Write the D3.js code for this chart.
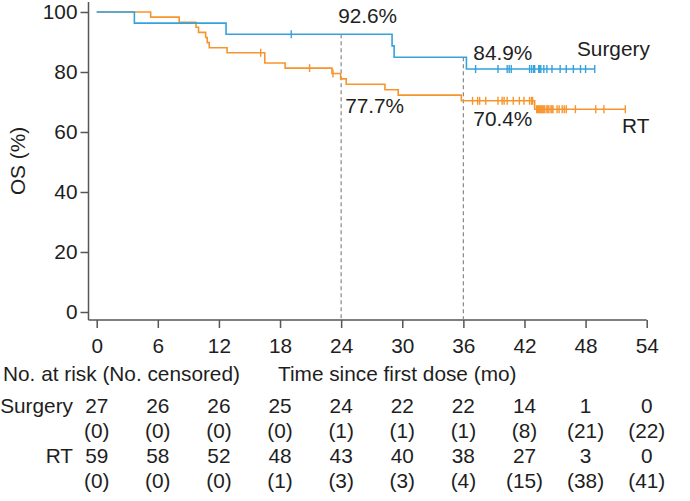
<!DOCTYPE html>
<html>
<head>
<meta charset="utf-8">
<script src="https://cdn.jsdelivr.net/npm/d3@7.9.0/dist/d3.min.js"></script>
<style>
  body { margin: 0; background: #fff; }
  svg { display: block; font-family: 'Liberation Sans', Arial, sans-serif; }
  text { fill: #1e1e1e; }
</style>
</head>
<body>
<div id="chart"></div>
<script>
// DATA

const surgeryStepTimes = [0, 3.7, 12.7, 29.0, 29.2, 36.3];
const surgeryStepSurv = [100, 96.3, 92.6, 88.7, 84.9, 81.0];
const surgeryEnd = 48.9;
const surgeryCensors = [19.1, 37.2, 39.4, 40.3, 40.5, 40.7, 42.5, 42.7, 42.9, 43.0,
  43.4, 43.5, 43.6, 43.9, 44.2, 44.7, 45.5, 46.1, 46.8, 47.5, 48.0, 48.9];

const rtStepTimes = [0, 5.3, 8.1, 9.75, 10.0, 10.7, 10.85, 11.05, 12.8, 16.5,
  18.5, 23.1, 23.95, 24.5, 28.3, 29.6, 35.8, 43.0];
const rtStepSurv = [100, 98.3, 96.6, 94.9, 93.2, 91.5, 89.8, 88.1, 86.4, 83.0,
  81.3, 79.5, 77.7, 75.9, 74.1, 72.3, 70.4, 67.6];
const rtEnd = 51.9;
const rtCensors = [16.1, 20.9, 23.2, 36.9, 37.4, 37.6, 38.2, 39.4, 39.8, 40.0,
  40.3, 40.9, 41.5, 41.95, 42.5, 42.7, 42.8, 43.2, 43.3, 43.4, 43.5, 43.6, 43.7,
  43.8, 43.9, 44.0, 44.2, 44.3, 44.4, 44.6, 44.7, 44.8, 45.2, 45.4, 45.7, 45.9,
  46.1, 47.0, 49.0, 49.8, 51.9];

const landmarkTimes = [24, 36];
const landmarkLabels = [
  { text: '92.6%', t: 24, dx: -3, y: 22.5 },
  { text: '77.7%', t: 24, dx: 4, y: 112.5 },
  { text: '84.9%', t: 36, dx: 10, y: 60 },
  { text: '70.4%', t: 36, dx: 10, y: 126 },
];

const xTicks = [0, 6, 12, 18, 24, 30, 36, 42, 48, 54];
const yTicks = [0, 20, 40, 60, 80, 100];

const riskTimes = [0, 6, 12, 18, 24, 30, 36, 42, 48, 54];
const surgeryAtRisk = [27, 26, 26, 25, 24, 22, 22, 14, 1, 0];
const surgeryCensored = [0, 0, 0, 0, 1, 1, 1, 8, 21, 22];
const rtAtRisk = [59, 58, 52, 48, 43, 40, 38, 27, 3, 0];
const rtCensored = [0, 0, 0, 1, 3, 3, 4, 15, 38, 41];

const blue = '#35a2dc';
const orange = '#f7952c';

const width = 690;
const height = 501;
const fontSize = 20.8;

const svg = d3.select('#chart')
  .append('svg')
  .attr('width', width)
  .attr('height', height);

// SCALES

const xScale = d3.scaleLinear().domain([0, 54]).range([96.7, 646.7]);
const yScale = d3.scaleLinear().domain([0, 100]).range([312, 12]);

const axisY = 320;
const axisX = 88.5;

// AXES

const axisColor = '#555';

svg.append('line')
  .attr('x1', axisX).attr('x2', xScale(54))
  .attr('y1', axisY).attr('y2', axisY)
  .attr('stroke', axisColor).attr('stroke-width', 1.5);

svg.append('line')
  .attr('x1', axisX).attr('x2', axisX)
  .attr('y1', 2).attr('y2', axisY)
  .attr('stroke', axisColor).attr('stroke-width', 1.5);

const xAxis = svg.append('g')
  .attr('transform', `translate(0,${axisY})`)
  .call(d3.axisBottom(xScale).tickValues(xTicks).tickSize(8).tickPadding(10));

const yAxis = svg.append('g')
  .attr('transform', `translate(${axisX},0)`)
  .call(d3.axisLeft(yScale).tickValues(yTicks).tickSize(8).tickPadding(3));

[xAxis, yAxis].forEach((g) => {
  g.select('.domain').remove();
  g.selectAll('line').attr('stroke', axisColor).attr('stroke-width', 1.5);
  g.selectAll('text')
    .attr('font-size', fontSize)
    .attr('font-family', "'Liberation Sans', Arial, sans-serif")
    .attr('fill', '#1e1e1e');
});

svg.append('text')
  .attr('transform', 'translate(17,161) rotate(-90)')
  .attr('text-anchor', 'middle')
  .attr('dominant-baseline', 'central')
  .attr('font-size', fontSize)
  .text('OS (%)');

// HELPERS

function survAt(times, surv, t) {
  const i = d3.bisectRight(times, t) - 1;
  return surv[Math.max(0, i)];
}

function stepPoints(times, surv, end) {
  const pts = times.map((t, i) => [t, surv[i]]);
  pts.push([end, surv[surv.length - 1]]);
  return pts;
}

// LANDMARK LINES

svg.append('g')
  .selectAll('line')
  .data(landmarkTimes)
  .join('line')
  .attr('x1', (d) => xScale(d))
  .attr('x2', (d) => xScale(d))
  .attr('y1', (d) => yScale(survAt(surgeryStepTimes, surgeryStepSurv, d)))
  .attr('y2', axisY)
  .attr('stroke', '#888')
  .attr('stroke-width', 1.2)
  .attr('stroke-dasharray', '4,3');

// CURVES

const line = d3.line()
  .x((d) => xScale(d[0]))
  .y((d) => yScale(d[1]))
  .curve(d3.curveStepAfter);

const groups = [
  { times: rtStepTimes, surv: rtStepSurv, end: rtEnd, censors: rtCensors, color: orange },
  { times: surgeryStepTimes, surv: surgeryStepSurv, end: surgeryEnd, censors: surgeryCensors, color: blue },
];

groups.forEach((g) => {
  svg.append('path')
    .attr('d', line(stepPoints(g.times, g.surv, g.end)))
    .attr('fill', 'none')
    .attr('stroke', g.color)
    .attr('stroke-width', 1.6);

  svg.append('g')
    .selectAll('line')
    .data(g.censors)
    .join('line')
    .attr('x1', (d) => xScale(d))
    .attr('x2', (d) => xScale(d))
    .attr('y1', (d) => yScale(survAt(g.times, g.surv, d)) - 4)
    .attr('y2', (d) => yScale(survAt(g.times, g.surv, d)) + 4)
    .attr('stroke', g.color)
    .attr('stroke-width', 1.4);
});

// LABELS

svg.append('g')
  .selectAll('text')
  .data(landmarkLabels)
  .join('text')
  .attr('x', (d) => xScale(d.t) + d.dx)
  .attr('y', (d) => d.y)
  .attr('font-size', fontSize)
  .text((d) => d.text);

svg.append('text')
  .attr('x', 577).attr('y', 56)
  .attr('font-size', fontSize)
  .text('Surgery');

svg.append('text')
  .attr('x', 622).attr('y', 133)
  .attr('font-size', fontSize)
  .text('RT');

// RISK TABLE

svg.append('text')
  .attr('x', 3).attr('y', 381)
  .attr('font-size', fontSize)
  .text('No. at risk (No. censored)');

svg.append('text')
  .attr('x', 278).attr('y', 381)
  .attr('font-size', fontSize)
  .text('Time since first dose (mo)');

const rows = [
  { label: 'Surgery', values: surgeryAtRisk, y: 413 },
  { label: '', values: surgeryCensored.map((d) => `(${d})`), y: 438 },
  { label: 'RT', values: rtAtRisk, y: 463 },
  { label: '', values: rtCensored.map((d) => `(${d})`), y: 488 },
];

rows.forEach((row) => {
  svg.append('text')
    .attr('x', 73).attr('y', row.y)
    .attr('text-anchor', 'end')
    .attr('font-size', fontSize)
    .text(row.label);

  svg.append('g')
    .selectAll('text')
    .data(row.values)
    .join('text')
    .attr('x', (d, i) => xScale(riskTimes[i]))
    .attr('y', row.y)
    .attr('text-anchor', 'middle')
    .attr('font-size', fontSize)
    .text((d) => d);
});
</script>
</body>
</html>
